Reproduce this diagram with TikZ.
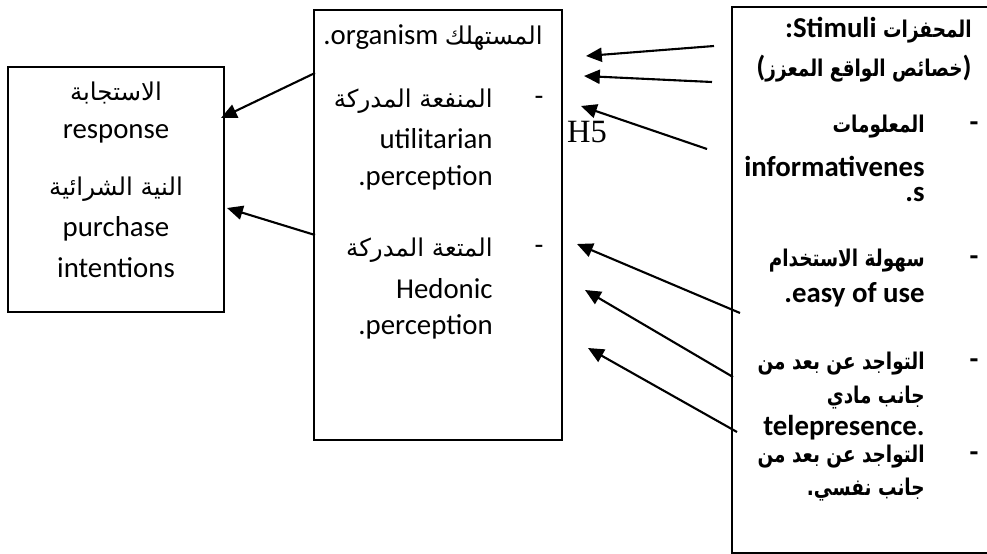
\documentclass[tikz,border=0pt]{standalone}
\usepackage{fontspec}
\setmainfont{Carlito}
\newfontfamily\arabicfont[Script=Arabic,Scale=0.85]{DejaVu Sans}
\newfontfamily\arabicbold[Script=Arabic,Scale=0.8]{DejaVu Sans Bold}
\newfontfamily\hfont{Liberation Serif}
\TeXXeTstate=1
\usetikzlibrary{arrows.meta}

\newcommand{\arabtxt}[1]{{\arabicfont\beginR #1\endR}}
\newcommand{\arabb}[1]{\scalebox{0.8}[1]{\arabicbold\beginR #1\endR}}

\tikzset{
  caja/.style={draw, line width=1.1pt, inner sep=0pt},
  txt/.style={inner sep=0pt, font=\fontsize{16.4}{20}\selectfont},
  txtb/.style={txt, font=\fontsize{16.4}{20}\selectfont\bfseries},
  flecha/.style={line width=1.2pt, -{Triangle[length=9pt,width=8pt]}}
}

\begin{document}
\begin{tikzpicture}[x=0.02cm,y=-0.02cm]
  \useasboundingbox (0,0) rectangle (987,554);
  \clip (0,0) rectangle (987,554);

  % Cajas
  \node[caja, minimum width=4.32cm, minimum height=4.9cm] (resp) at (116,189.5) {};
  \node[caja, minimum width=4.96cm, minimum height=8.6cm] (org) at (438,225) {};
  \node[caja, minimum width=5.3cm, minimum height=10.92cm] (stim) at (864.5,280) {};

  % Respuesta
  \node[txt] (r1) at (116,93) {\arabtxt{الاستجابة}};
  \node[txt] (r2) at (116,134) {response};
  \node[txt] (r3) at (116,189) {\arabtxt{النية الشرائية}};
  \node[txt] (r4) at (116,229) {purchase};
  \node[txt] (r5) at (116,268) {intentions};

  % Organismo
  \node[txt, anchor=east] (o1) at (543,38) {.organism \arabtxt{المستهلك}};
  \node[txt] (o2d) at (539,101) {-};
  \node[txt, anchor=east] (o2) at (493,101) {\arabtxt{المنفعة المدركة}};
  \node[txt, anchor=east] (o3) at (493,139) {utilitarian};
  \node[txt, anchor=east] (o4) at (493,178) {.perception};
  \node[txt] (o5d) at (539,250) {-};
  \node[txt, anchor=east] (o5) at (493,250) {\arabtxt{المتعة المدركة}};
  \node[txt, anchor=east] (o6) at (493,289) {Hedonic};
  \node[txt, anchor=east] (o7) at (493,327) {.perception};

  % Estimulos
  \node[txtb, anchor=east] (s1) at (972,30) {:Stimuli \arabb{المحفزات}};
  \node[txtb, anchor=east] (s2) at (972,69) {(\arabb{خصائص الواقع المعزز})};
  \node[txtb] (s3d) at (974,127) {-};
  \node[txtb, anchor=east] (s3) at (925,127) {\arabb{المعلومات}};
  \node[txtb, anchor=east] (s4) at (925,166) {informativenes};
  \node[txtb, anchor=east] (s5) at (925,195) {.s};
  \node[txtb] (s6d) at (974,261) {-};
  \node[txtb, anchor=east] (s6) at (925,261) {\arabb{سهولة الاستخدام}};
  \node[txtb, anchor=east] (s7) at (925,295) {.easy of use};
  \node[txtb] (s8d) at (974,364) {-};
  \node[txtb, anchor=east] (s8) at (925,364) {\arabb{التواجد عن بعد من}};
  \node[txtb, anchor=east] (s9) at (925,398) {\arabb{جانب مادي}};
  \node[txtb, anchor=east] (s10) at (925,428) {telepresence.};
  \node[txtb] (s11d) at (974,457) {-};
  \node[txtb, anchor=east] (s11) at (925,457) {\arabb{التواجد عن بعد من}};
  \node[txtb, anchor=east] (s12) at (925,490) {\arabb{جانب نفسي.}};

  % Hipotesis
  \node[inner sep=0pt, font=\hfont\fontsize{18.5}{20}\selectfont] (h5) at (587,132) {H5};

  % Puntos de las flechas
  \coordinate (a1) at (714,46);  \coordinate (b1) at (586,56);
  \coordinate (a2) at (712,82);  \coordinate (b2) at (584,76);
  \coordinate (a3) at (707,149); \coordinate (b3) at (581,106);
  \coordinate (a4) at (740,313); \coordinate (b4) at (577,244);
  \coordinate (a5) at (733,377); \coordinate (b5) at (585,290);
  \coordinate (a6) at (737,432); \coordinate (b6) at (588,348);
  \coordinate (c1) at (315,73);  \coordinate (d1) at (221,118);
  \coordinate (c2) at (315,235); \coordinate (d2) at (227,208);

  % Flechas
  \draw[flecha] (a1) -- (b1);
  \draw[flecha] (a2) -- (b2);
  \draw[flecha] (a3) -- (b3);
  \draw[flecha] (a4) -- (b4);
  \draw[flecha] (a5) -- (b5);
  \draw[flecha] (a6) -- (b6);
  \draw[flecha] (c1) -- (d1);
  \draw[flecha] (c2) -- (d2);
\end{tikzpicture}
\end{document}
